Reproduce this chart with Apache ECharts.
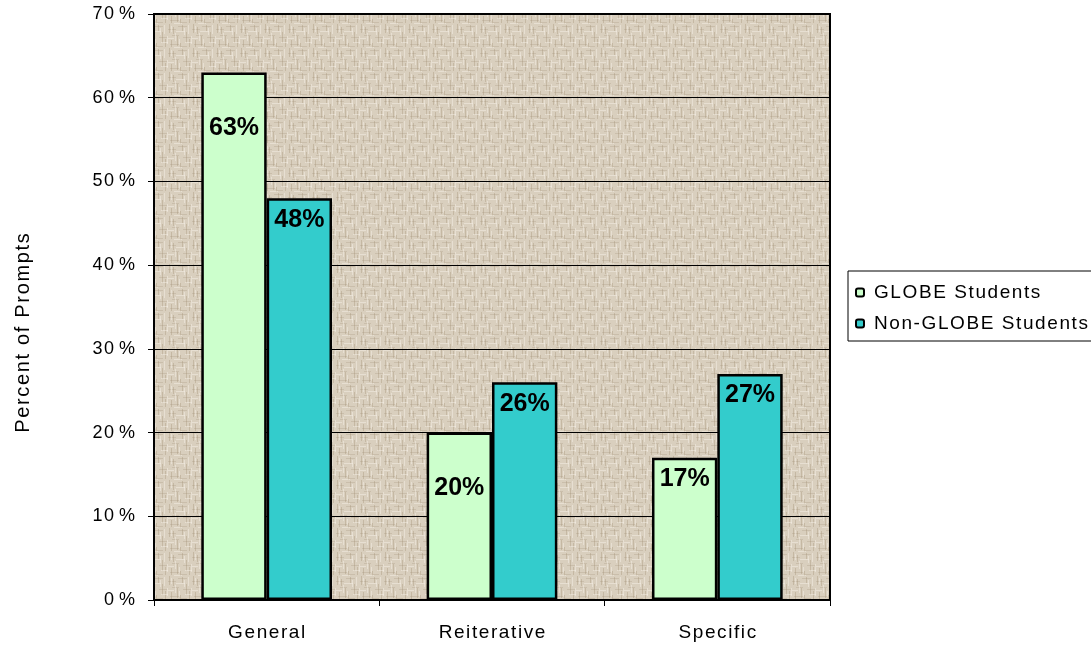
<!DOCTYPE html>
<html>
<head>
<meta charset="utf-8">
<script src="https://cdn.jsdelivr.net/npm/echarts@6/dist/echarts.min.js"></script>
<style>
  html, body { margin: 0; padding: 0; background: #ffffff; }
  #chart { width: 1091px; height: 646px; }
</style>
</head>
<body>
<div id="chart"></div>
<script>
// Prompt types and the share of prompts for each student group (percent)
const categories = ['General', 'Reiterative', 'Specific'];
const globeStudents = [63, 20, 17];
const nonGlobeStudents = [48, 26, 27];
const seriesNames = ['GLOBE Students', 'Non-GLOBE Students'];
const yTicks = [0, 10, 20, 30, 40, 50, 60, 70];
const yTitle = 'Percent of Prompts';

const FONT = 'Liberation Sans, Arial, sans-serif';
const HAIR = '\u200a';

// Slightly spaced-out lettering for axis and legend text
function spaced(s) {
  return s.split('').join(HAIR);
}

// Woven paper texture for the plot background, drawn with a fixed pattern
function makeTexture() {
  const c = document.createElement('canvas');
  c.width = 24; c.height = 24;
  const g = c.getContext('2d');
  g.fillStyle = '#d9cfbe';
  g.fillRect(0, 0, 24, 24);
  const darkV = [[1,0,1,9],[5,3,1,7],[9,12,1,10],[14,1,1,6],[18,8,1,11],[21,15,1,8],[3,16,1,7],[12,19,1,5]];
  g.fillStyle = 'rgba(160,140,115,0.35)';
  darkV.forEach(r => g.fillRect(r[0], r[1], r[2], r[3]));
  const darkH = [[0,5,8,1],[10,2,9,1],[4,11,7,1],[15,13,8,1],[2,20,10,1],[13,22,6,1]];
  g.fillStyle = 'rgba(160,140,115,0.25)';
  darkH.forEach(r => g.fillRect(r[0], r[1], r[2], r[3]));
  const light = [[3,2,1,6],[7,9,1,8],[16,4,1,7],[11,15,1,6],[20,1,1,9],[23,12,1,8],[0,14,6,1],[8,7,9,1],[17,18,7,1],[6,23,8,1]];
  g.fillStyle = 'rgba(245,240,230,0.5)';
  light.forEach(r => g.fillRect(r[0], r[1], r[2], r[3]));
  return c;
}

const chart = echarts.init(document.getElementById('chart'), null, { renderer: 'canvas' });

const valueLabel = {
  show: true,
  position: 'insideTop',
  distance: 9,
  formatter: p => p.value + '%',
  color: '#000',
  fontFamily: FONT,
  fontWeight: 'bold',
  fontSize: 25
};

// Labels that sit further down inside their bar
const lowered = { '0-0': 34, '0-1': 34 };

function buildData(values, sIdx) {
  return values.map((v, i) => {
    const shift = lowered[sIdx + '-' + i];
    return shift ? { value: v, label: { offset: [0, shift] } } : v;
  });
}

const option = {
  animation: false,
  textStyle: { fontFamily: FONT },
  grid: {
    left: 154, right: 261, top: 14, bottom: 46,
    show: true,
    backgroundColor: { image: makeTexture(), repeat: 'repeat' },
    borderColor: '#000',
    borderWidth: 2
  },
  legend: {
    orient: 'vertical',
    left: 848, top: 271,
    padding: [12, 14, 8, 7],
    itemGap: 12,
    itemWidth: 8, itemHeight: 8,
    backgroundColor: '#fff',
    borderColor: '#000',
    borderWidth: 1,
    borderRadius: 0,
    formatter: name => spaced(name),
    textStyle: { fontSize: 19, color: '#000', fontFamily: FONT, padding: [0, 0, 0, 5] },
    data: seriesNames.map(n => ({ name: n, itemStyle: { borderColor: '#000', borderWidth: 2 } }))
  },
  xAxis: {
    type: 'category',
    data: categories,
    axisLine: { show: true, lineStyle: { color: '#000', width: 2 } },
    axisTick: { show: true, length: 6, lineStyle: { color: '#000', width: 1 } },
    axisLabel: {
      color: '#000', fontSize: 19, margin: 23, fontFamily: FONT,
      formatter: v => spaced(v)
    }
  },
  yAxis: {
    type: 'value',
    min: 0, max: 70, interval: 10,
    name: spaced(yTitle),
    nameLocation: 'middle',
    nameGap: 121,
    nameTextStyle: { fontSize: 20, color: '#000', fontFamily: FONT, padding: [0, 52, 0, 0] },
    axisLine: { show: true, lineStyle: { color: '#000', width: 2 } },
    axisTick: { show: true, length: 6, lineStyle: { color: '#000', width: 1 } },
    axisLabel: {
      color: '#000', fontSize: 18, margin: 19,
      fontFamily: FONT,
      formatter: v => yTicks.indexOf(v) >= 0 ? spaced(String(v)) + ' %' : ''
    },
    splitLine: { show: true, lineStyle: { color: '#000', width: 1 } }
  },
  series: [
    {
      name: seriesNames[0],
      type: 'bar',
      data: buildData(globeStudents, 0),
      barGap: '0%',
      barCategoryGap: '42%',
      itemStyle: { color: '#ccffcc', borderColor: '#000', borderWidth: 2.5 },
      label: valueLabel
    },
    {
      name: seriesNames[1],
      type: 'bar',
      data: buildData(nonGlobeStudents, 1),
      barGap: '0%',
      barCategoryGap: '42%',
      itemStyle: { color: '#33cccc', borderColor: '#000', borderWidth: 2.5 },
      label: valueLabel
    }
  ]
};

chart.setOption(option);
</script>
</body>
</html>
